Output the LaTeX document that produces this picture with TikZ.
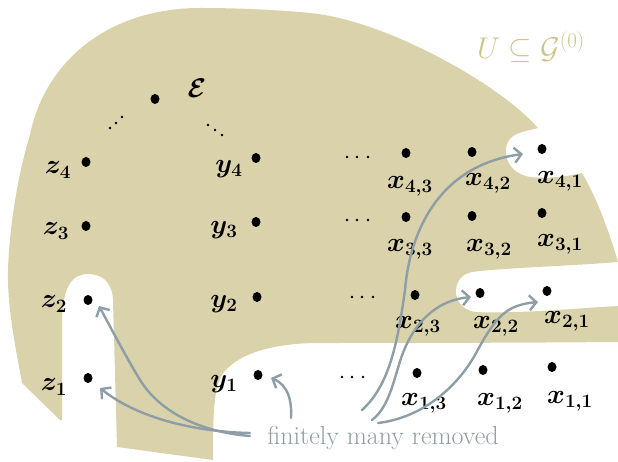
\RequirePackage{fix-cm}
\documentclass[tikz,border=0pt]{standalone}
\usetikzlibrary{arrows.meta,shapes.geometric}
\definecolor{blobtan}{RGB}{218,210,170}
\definecolor{labtan}{RGB}{208,196,142}
\definecolor{arrgray}{RGB}{141,158,166}
\tikzset{
  pt/.style={ellipse,fill=black,inner sep=0pt,minimum width=9pt,minimum height=10pt},
  sdot/.style={circle,fill=black,inner sep=0pt,minimum size=2.8pt},
  lab/.style={font=\fontsize{27}{31}\selectfont\boldmath,inner sep=0pt},
  rem/.style={draw=arrgray,line width=2.4pt,line cap=round,
    -{Straight Barb[length=7pt,width=15pt,line width=2.4pt]}},
}
\begin{document}
\begin{tikzpicture}[x=1pt,y=-1pt]
\useasboundingbox (0,0) rectangle (618,462);
% the set U
\fill[blobtan] (60,420) -- (22,383)
  .. controls (15,345) and (7,305) .. (8,270)
  .. controls (9,235) and (16,180) .. (30,135)
  .. controls (45,60) and (110,8) .. (200,8)
  .. controls (240,8) and (280,10) .. (310,13)
  .. controls (360,18) and (420,45) .. (467,73)
  .. controls (495,90) and (520,108) .. (538,128)
  .. controls (530,130) and (520,132) .. (515,135)
  .. controls (500,142) and (502,172) .. (530,177)
  .. controls (550,179) and (570,176) .. (582,173)
  .. controls (598,200) and (610,235) .. (618,262)
  .. controls (570,266) and (500,268) .. (472,272)
  .. controls (450,276) and (450,308) .. (475,312)
  .. controls (520,314) and (580,308) .. (618,306)
  -- (618,342)
  .. controls (500,343) and (380,343) .. (320,343)
  .. controls (270,343) and (235,355) .. (222,375)
  .. controls (213,390) and (213,420) .. (213,460)
  -- (117,447) -- (113,300)
  .. controls (112,280) and (100,274) .. (88,274)
  .. controls (70,274) and (63,290) .. (62,320)
  -- (62,420) -- cycle;
\node[font=\fontsize{30}{34}\selectfont,text=labtan] (ulab) at (531,47) {$U\subseteq\mathcal{G}^{(0)}$};
% epsilon
\node[pt] (e) at (155,99) {};
\node[lab] (elab) at (197,88) {$\mathcal{E}$};
\node[sdot] (dl1) at (110,128) {};
\node[sdot] (dl2) at (116,123) {};
\node[sdot] (dl3) at (122,117) {};
\node[sdot] (dr1) at (208,125) {};
\node[sdot] (dr2) at (215,130) {};
\node[sdot] (dr3) at (222,135) {};
% z column
\node[pt] (z4) at (86,162) {};
\node[pt] (z3) at (86,226) {};
\node[pt] (z2) at (88,300) {};
\node[pt] (z1) at (88,378) {};
\node[lab] (z4l) at (58,170) {$z_4$};
\node[lab] (z3l) at (56,231) {$z_3$};
\node[lab] (z2l) at (54,304) {$z_2$};
\node[lab] (z1l) at (54,387) {$z_1$};
% y column
\node[pt] (y4) at (256,158) {};
\node[pt] (y3) at (256,222) {};
\node[pt] (y2) at (257,297) {};
\node[pt] (y1) at (258,375) {};
\node[lab] (y4l) at (229,169) {$y_4$};
\node[lab] (y3l) at (224,230) {$y_3$};
\node[lab] (y2l) at (224,304) {$y_2$};
\node[lab] (y1l) at (224,384) {$y_1$};
% horizontal dots
\foreach \r/\xa/\yy in {4/347/157,3/347/220,2/352/297,1/342/377}{
  \node[sdot] (h\r a) at (\xa,\yy) {};
  \node[sdot] (h\r b) at (\xa+10,\yy) {};
  \node[sdot] (h\r c) at (\xa+21,\yy) {};
}
% x grid
\node[pt] (x43) at (406,153) {};
\node[pt] (x42) at (472,152) {};
\node[pt] (x41) at (542,149) {};
\node[pt] (x33) at (406,217) {};
\node[pt] (x32) at (472,216) {};
\node[pt] (x31) at (542,213) {};
\node[pt] (x23) at (415,295) {};
\node[pt] (x22) at (480,293) {};
\node[pt] (x21) at (547,291) {};
\node[pt] (x13) at (417,373) {};
\node[pt] (x12) at (483,370) {};
\node[pt] (x11) at (552,367) {};
\node[lab] (x43l) at (410,186) {$x_{4,3}$};
\node[lab] (x42l) at (488,183) {$x_{4,2}$};
\node[lab] (x41l) at (560,181) {$x_{4,1}$};
\node[lab] (x33l) at (410,249) {$x_{3,3}$};
\node[lab] (x32l) at (489,249) {$x_{3,2}$};
\node[lab] (x31l) at (560,244) {$x_{3,1}$};
\node[lab] (x23l) at (418,326) {$x_{2,3}$};
\node[lab] (x22l) at (496,326) {$x_{2,2}$};
\node[lab] (x21l) at (567,321) {$x_{2,1}$};
\node[lab] (x13l) at (424,403) {$x_{1,3}$};
\node[lab] (x12l) at (500,403) {$x_{1,2}$};
\node[lab] (x11l) at (570,401) {$x_{1,1}$};
% annotation
\node[font=\fontsize{26}{30}\selectfont,text=arrgray] (rm) at (383,438) {finitely many removed};
\coordinate (sz1) at (250,433);
\coordinate (sz2) at (250,436);
\coordinate (sy1) at (291,418);
\coordinate (sa) at (362,410);
\coordinate (sb) at (372,420);
\coordinate (sc) at (378,423);
\coordinate (tz1) at (100,388);
\coordinate (tz2) at (99,306);
\coordinate (ty1) at (271,378);
\coordinate (t41) at (523,154);
\coordinate (t22) at (471,297);
\coordinate (t21) at (538,302);
\draw[rem] (sz1) .. controls (200,432) and (140,420) .. (tz1);
\draw[rem] (sz2) .. controls (200,432) and (160,412) .. (140,380)
  .. controls (125,355) and (112,330) .. (tz2);
\draw[rem] (sy1) .. controls (292,400) and (288,385) .. (ty1);
\draw[rem] (sa) .. controls (390,385) and (398,340) .. (405,290)
  .. controls (410,230) and (440,165) .. (t41);
\draw[rem] (sb) .. controls (392,405) and (395,370) .. (405,348)
  .. controls (418,318) and (440,300) .. (t22);
\draw[rem] (sc) .. controls (420,418) and (455,390) .. (475,355)
  .. controls (495,318) and (505,305) .. (t21);
\end{tikzpicture}
\end{document}
